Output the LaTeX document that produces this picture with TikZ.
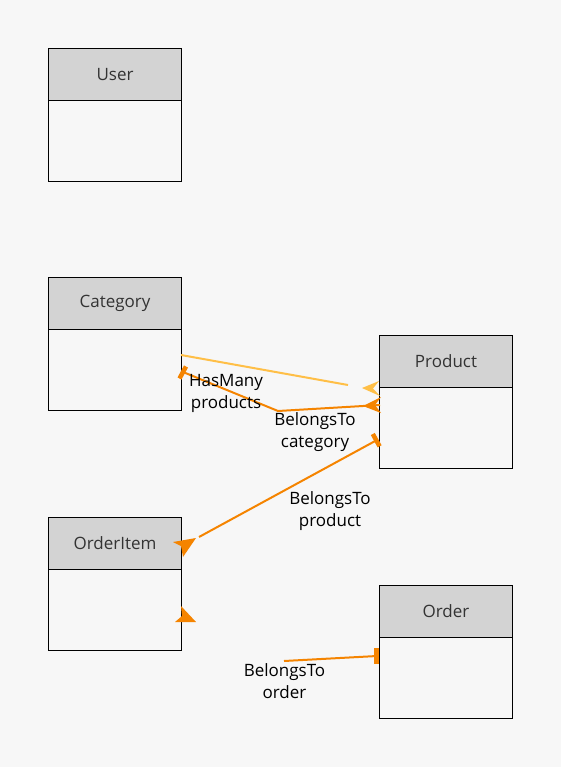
\documentclass[tikz,border=0pt]{standalone}
\usepackage{fontspec}
\setmainfont{Open Sans}
\definecolor{bgc}{HTML}{F7F7F7}
\definecolor{hdr}{HTML}{D3D3D3}
\definecolor{ttl}{HTML}{333333}
\definecolor{lor}{HTML}{FFBF47}
\definecolor{dor}{HTML}{F58400}
\tikzset{
  hdrbox/.style={draw=black, line width=1pt, fill=hdr, minimum width=133pt, minimum height=52pt, anchor=north west, inner sep=0pt, text=ttl, font=\fontsize{17}{20}\selectfont},
  bodybox/.style={draw=black, line width=1pt, fill=bgc, minimum width=133pt, minimum height=81pt, anchor=north west, inner sep=0pt},
  lbl/.style={align=center, inner sep=0pt, text=black, font=\fontsize{17}{22}\selectfont},
  rel/.style={line width=2pt},
  teebar/.style={line width=4.5pt, line cap=butt},
  tipshape/.style={fill=#1, draw=none}
}
\newcommand\erentity[4]{%
  \node[bodybox] (#1-b) at (#3,#4+52) {};
  \node[hdrbox] (#1) at (#3,#4) {#2};
}
\begin{document}
\begin{tikzpicture}[x=1pt,y=-1pt]
\fill[bgc] (0,0) rectangle (561,767);
\useasboundingbox (0,0) rectangle (561,767);
\erentity{user}{User}{48}{48}
\erentity{category}{Category}{48}{277}
\erentity{product}{Product}{379}{335}
\erentity{orderitem}{OrderItem}{48}{517}
\erentity{order}{Order}{379}{585}
% connector coordinates
\coordinate (c1s) at (181,355);
\coordinate (c1e) at (348,385);
\coordinate (c2s) at (183,372);
\coordinate (c2m) at (278,411);
\coordinate (c2e) at (380,405);
\coordinate (c3s) at (377,440);
\coordinate (c3e) at (199,537);
\coordinate (c4s) at (284,661);
\coordinate (c4e) at (377,656);
% HasMany products
\draw[rel, lor] (c1s) -- (c1e);
\fill[tipshape=lor] (362,388) -- (379,381) -- (373,388.5) -- (380,396) -- cycle;
% BelongsTo category
\draw[rel, dor] (c2s) -- (c2m) -- (c2e);
\draw[teebar, dor] (179.5,378.5) -- (186,366.5);
\fill[tipshape=dor] (363,406) -- (381,397) -- (375,405) -- (381,413) -- cycle;
% BelongsTo product
\draw[rel, dor] (c3s) -- (c3e);
\draw[teebar, dor] (372.8,434) -- (379.6,446.3);
\fill[tipshape=dor] (196,538) -- (183,557) -- (181,546) -- (173,542) -- cycle;
% BelongsTo order
\draw[rel, dor] (c4s) -- (c4e);
\draw[teebar, dor] (376.5,648) -- (376.5,664);
\fill[tipshape=dor] (196,622) -- (175,622) -- (182,616) -- (181,606) -- cycle;
% labels
\node[lbl] (l1) at (226,393) {HasMany\\products};
\node[lbl] (l2) at (315,432) {BelongsTo\\category};
\node[lbl] (l3) at (330,511) {BelongsTo\\product};
\node[lbl] (l4) at (284.5,681) {BelongsTo\\order};
\end{tikzpicture}
\end{document}
